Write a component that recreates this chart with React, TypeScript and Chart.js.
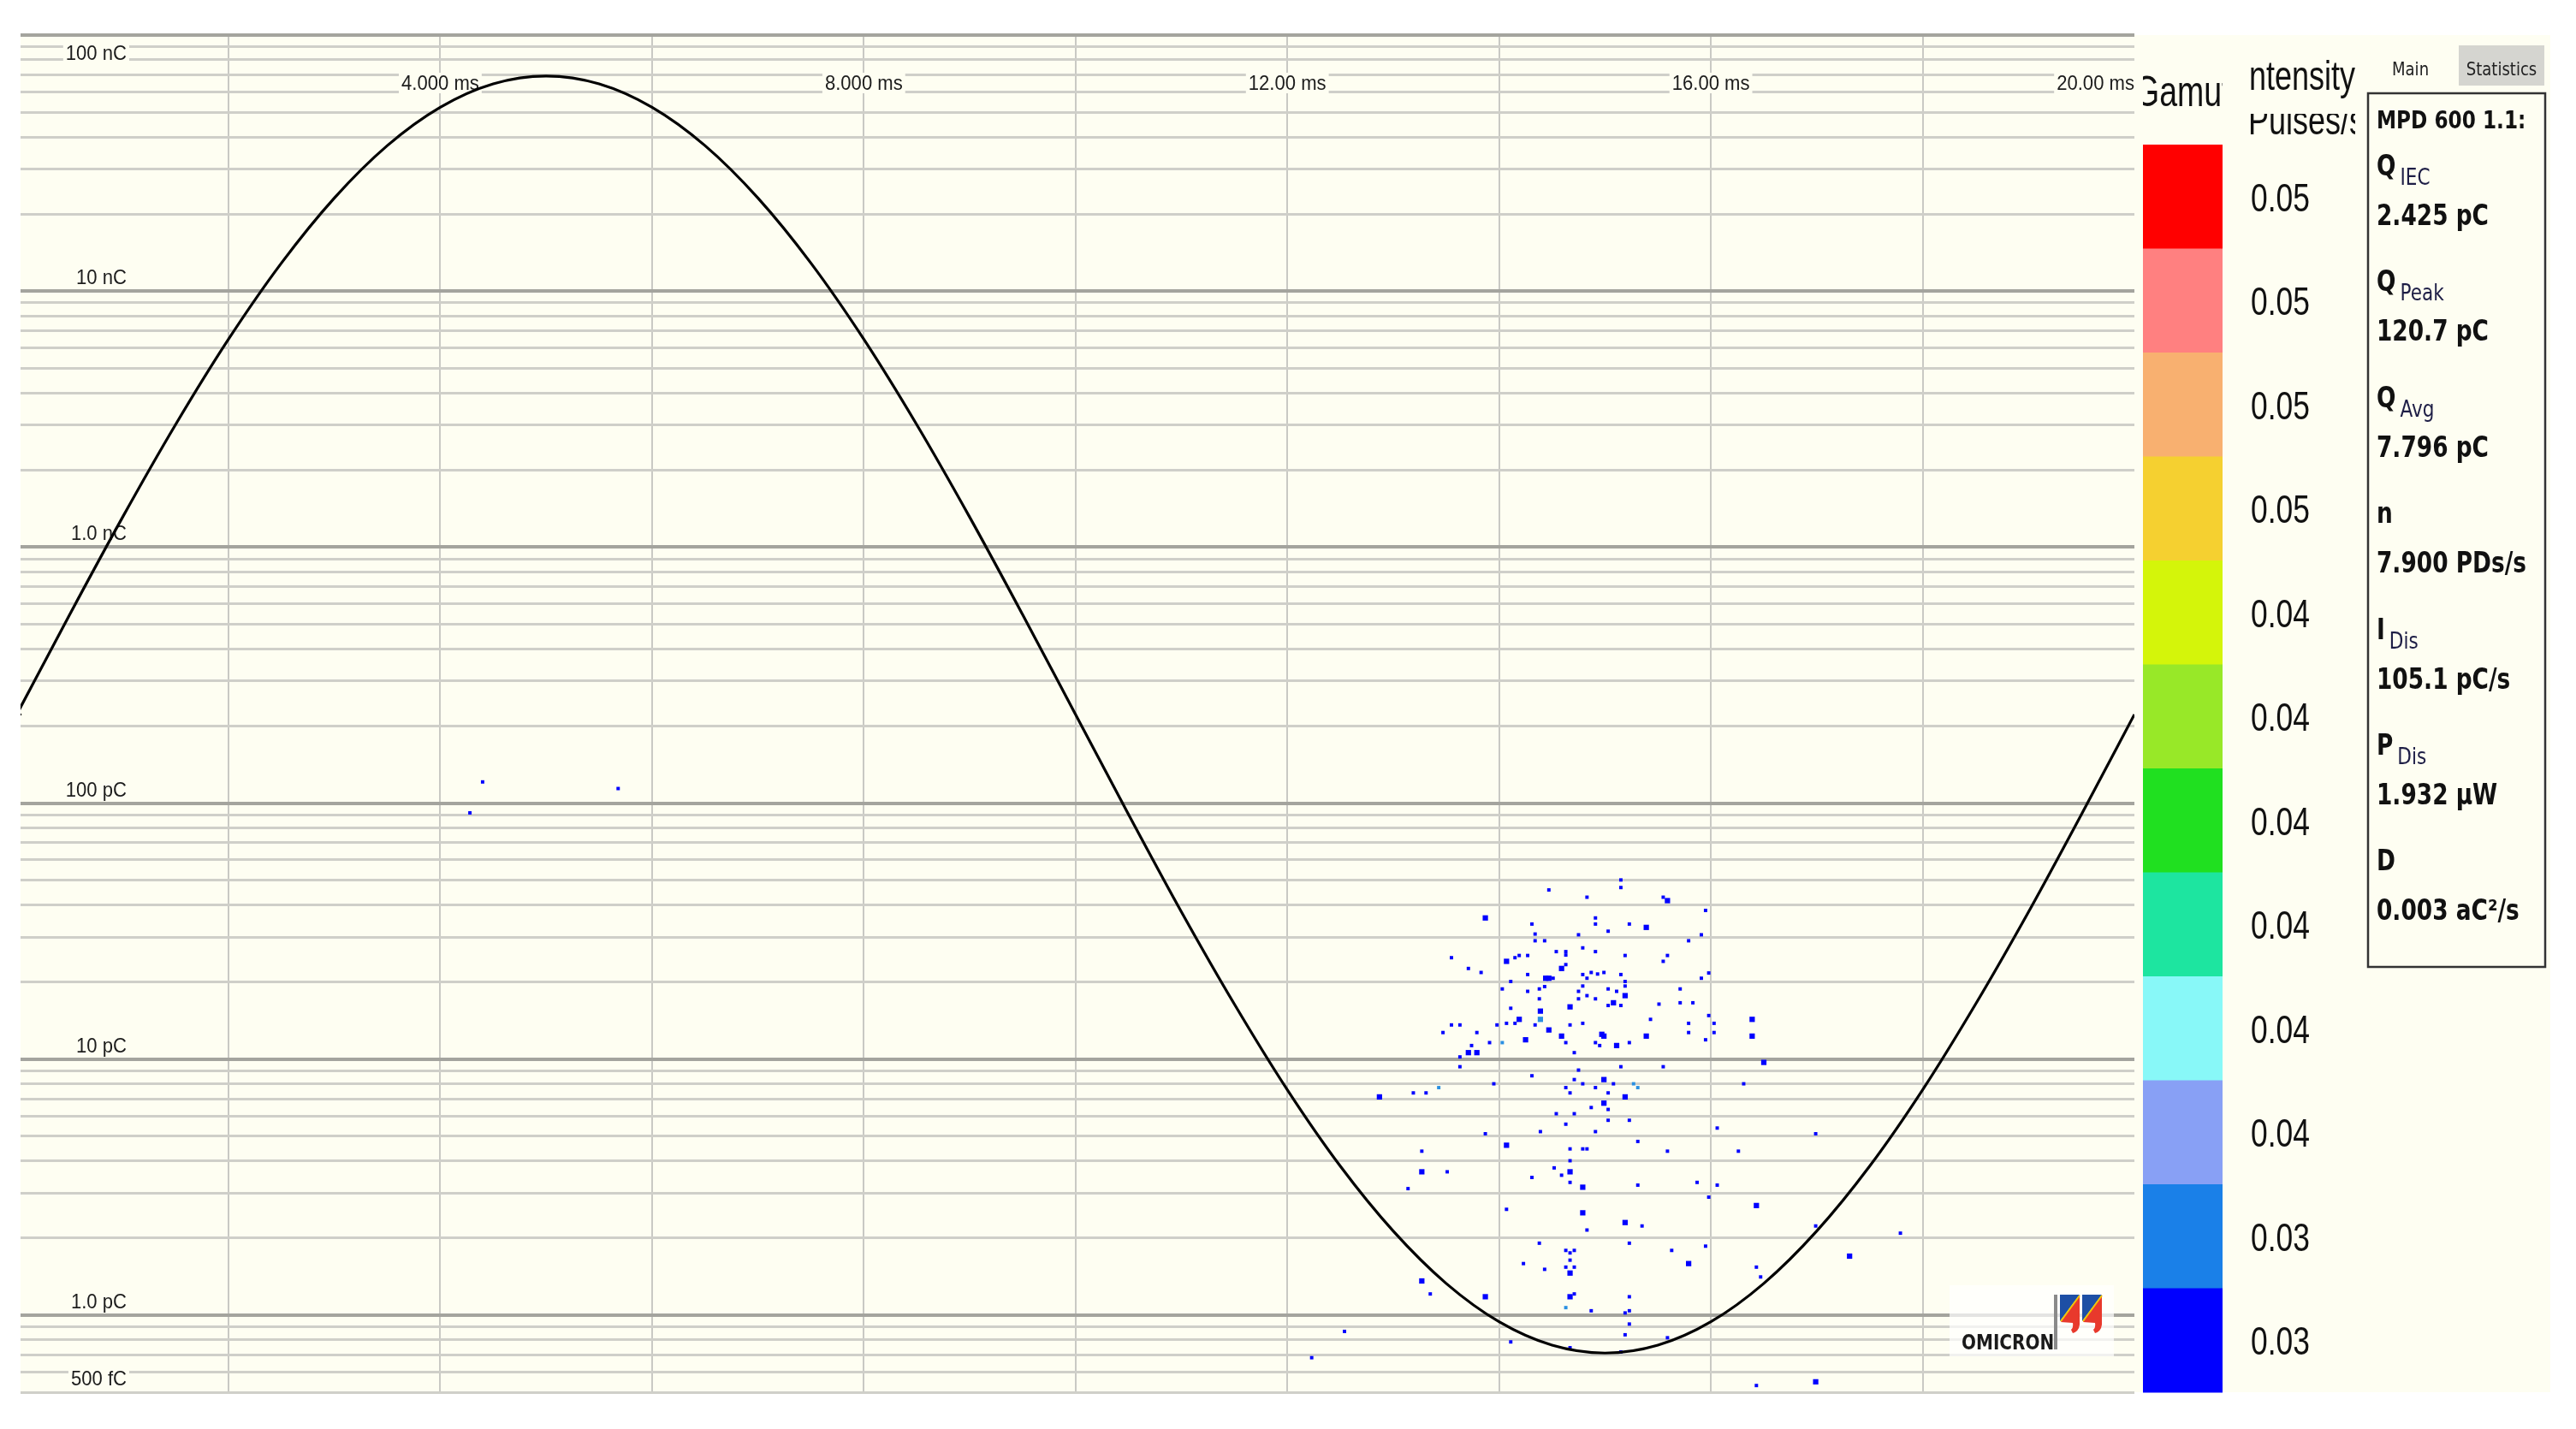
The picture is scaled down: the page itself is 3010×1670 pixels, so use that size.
import React, { useEffect, useRef } from 'react';
import { Chart, registerables } from 'chart.js';

Chart.register(...registerables);

// ---------------- DATA ----------------
// Reference sine (phase of 50 Hz test voltage): time (ms) and height on the charge axis (pC)
const sineTimeMs = [
  0, 0.5, 1, 1.5, 2, 2.5, 3, 3.5, 4, 4.5, 5, 5.5, 6, 6.5, 7, 7.5, 8, 8.5, 9, 9.5,
  10, 10.5, 11, 11.5, 12, 12.5, 13, 13.5, 14, 14.5, 15, 15.5, 16, 16.5, 17, 17.5, 18, 18.5, 19, 19.5, 20,
];
const sineChargePc = [
  222, 545, 1309, 3008, 6486, 12870, 23100, 37010, 52230, 64480, 69180, 64480, 52230, 37010, 23100, 12870, 6486, 3008, 1309, 545,
  222, 90.4, 37.6, 16.4, 7.59, 3.82, 2.13, 1.33, 0.942, 0.763, 0.711, 0.763, 0.942, 1.33, 2.13, 3.82, 7.59, 16.4, 37.6, 90.4, 222,
];

// Partial discharge pulses: phase time (ms), charge (pC), pulse count in the cell, intensity level (0 = lowest)
const pdTimeMs = [
  15.15, 15.15, 14.47, 14.83, 15.55, 15.59, 15.95, 13.87, 14.91, 14.91,
  14.31, 15.23, 15.39, 15.03, 14.34, 14.75, 15.91, 14.34, 14.43, 15.79,
  14.54, 14.63, 14.63, 14.79, 14.91, 13.55, 14.19, 14.27, 14.15, 15.19,
  15.59, 14.07, 15.55, 13.71, 13.83, 14.59, 14.63, 14.27, 14.79, 14.83,
  14.87, 14.93, 14.99, 15.15, 14.44, 14.47, 14.51, 15.98, 15.91, 14.11,
  14.03, 15.19, 15.19, 14.79, 14.38, 14.43, 14.27, 14.75, 15.03, 15.11,
  15.71, 15.19, 14.83, 14.38, 14.75, 14.91, 15.08, 15.03, 15.15, 15.51,
  15.71, 15.83, 14.11, 14.39, 14.67, 15.98, 14.39, 14.19, 15.43, 14.07,
  14.15, 14.79, 15.79, 13.55, 13.63, 13.98, 14.34, 14.67, 13.47, 13.79,
  14.47, 14.97, 14.99, 14.59, 15.39, 15.79, 14.25, 15.95, 13.91, 14.03,
  14.63, 14.91, 14.95, 15.11, 15.23, 13.74, 13.71, 13.79, 14.71, 13.63,
  13.63, 14.75, 15.15, 15.55, 14.31, 14.71, 14.99, 13.95, 14.79, 15.08,
  15.27, 15.31, 13.43, 13.19, 13.31, 14.63, 14.91, 12.87, 14.67, 15.03,
  15.19, 14.99, 14.87, 15.03, 14.54, 14.71, 15.03, 15.23, 14.63, 13.87,
  14.39, 14.91, 16.03, 16.03, 16.39, 16.39, 16.5, 16.31, 16.06, 16.99,
  14.07, 13.27, 14.67, 14.79, 14.83, 15.31, 15.59, 14.67, 13.27, 13.51,
  14.52, 14.59, 14.67, 14.31, 14.67, 14.79, 15.31, 15.87, 13.14, 15.98,
  14.07, 14.79, 15.19, 15.35, 14.83, 14.38, 15.23, 14.63, 14.67, 14.71,
  15.63, 15.95, 14.67, 14.23, 15.79, 14.63, 14.71, 14.43, 14.67, 13.27,
  13.35, 13.87, 14.67, 14.71, 15.23, 14.63, 14.87, 15.19, 15.23, 15.23,
  12.54, 15.19, 15.59, 14.11, 14.67, 12.23, 15.15, 16.26, 16.06, 16.43,
  16.99, 17.79, 17.31, 16.43, 16.47, 16.43, 16.99, 4.4, 4.28, 5.68,
];
const pdChargePc = [
  50.1, 46.8, 45.8, 42.9, 42.9, 41.6, 38.1, 35.6, 35.6, 33.7,
  33.7, 33.7, 32.7, 31.6, 30.8, 30.6, 30.6, 29.0, 29.0, 29.0,
  26.3, 26.3, 25.5, 27.2, 26.3, 24.9, 25.4, 25.4, 24.9, 25.4,
  25.4, 24.1, 24.1, 22.6, 21.8, 22.6, 23.4, 21.4, 21.4, 20.7,
  21.8, 21.5, 21.8, 21.4, 20.7, 20.7, 20.7, 21.7, 20.7, 20.1,
  18.8, 20.1, 19.3, 19.3, 18.8, 19.2, 18.4, 18.4, 18.8, 18.4,
  18.8, 17.7, 17.7, 17.2, 17.2, 17.2, 16.6, 16.2, 16.2, 16.4,
  16.6, 16.6, 15.8, 15.4, 16.0, 14.8, 14.3, 14.3, 14.3, 13.8,
  13.8, 13.8, 13.8, 13.6, 13.6, 13.6, 13.6, 13.6, 12.7, 12.7,
  13.0, 12.5, 12.3, 12.3, 12.3, 12.7, 11.9, 11.9, 11.6, 11.6,
  11.6, 11.6, 11.3, 11.3, 11.6, 11.3, 10.6, 10.6, 10.6, 10.2,
  9.34, 9.06, 9.34, 9.34, 8.61, 8.32, 8.32, 8.01, 8.01, 8.01,
  8.01, 7.74, 7.74, 7.38, 7.38, 7.74, 7.74, 7.12, 7.38, 7.38,
  7.12, 6.73, 6.47, 6.36, 6.12, 6.12, 5.77, 5.77, 5.57, 5.11,
  5.21, 5.21, 13.8, 12.7, 14.3, 12.3, 9.71, 8.01, 5.38, 5.11,
  4.61, 4.37, 4.46, 4.46, 4.46, 4.77, 4.37, 4.01, 3.63, 3.63,
  3.76, 3.52, 3.63, 3.45, 3.3, 3.16, 3.22, 3.3, 3.12, 2.89,
  2.59, 2.51, 2.3, 2.23, 2.15, 1.91, 1.91, 1.79, 1.75, 1.79,
  1.79, 1.86, 1.64, 1.59, 1.59, 1.54, 1.54, 1.51, 1.46, 1.36,
  1.21, 1.18, 1.18, 1.21, 1.18, 1.07, 1.04, 1.02, 1.04, 0.923,
  0.864, 0.838, 0.816, 0.786, 0.746, 0.682, 0.718, 4.37, 3.22, 2.68,
  2.23, 2.09, 1.7, 1.54, 1.41, 0.531, 0.549, 121, 91.6, 114,
];
const pdPulses = [
  1, 1, 1, 1, 1, 2, 1, 2, 1, 1,
  1, 1, 2, 1, 1, 1, 1, 1, 1, 1,
  1, 1, 1, 1, 1, 1, 1, 1, 1, 1,
  1, 2, 1, 1, 1, 2, 1, 1, 1, 1,
  1, 1, 1, 1, 2, 2, 1, 1, 1, 1,
  1, 1, 1, 1, 1, 1, 1, 1, 1, 1,
  1, 2, 1, 1, 1, 1, 2, 1, 1, 1,
  1, 1, 1, 2, 2, 1, 2, 2, 1, 1,
  1, 1, 1, 1, 1, 1, 1, 1, 1, 1,
  2, 2, 2, 2, 2, 1, 2, 1, 1, 1,
  1, 1, 1, 2, 1, 1, 2, 2, 1, 1,
  1, 1, 1, 1, 1, 1, 2, 1, 1, 1,
  1, 1, 1, 1, 1, 1, 1, 2, 1, 1,
  2, 2, 1, 1, 1, 1, 1, 1, 1, 1,
  1, 1, 1, 1, 2, 2, 2, 1, 1, 1,
  2, 1, 1, 1, 1, 1, 1, 1, 2, 1,
  1, 1, 2, 1, 1, 2, 1, 1, 1, 1,
  1, 2, 2, 1, 1, 1, 1, 1, 1, 1,
  1, 1, 1, 1, 2, 1, 1, 1, 2, 2,
  1, 2, 2, 1, 1, 1, 1, 1, 1, 1,
  1, 1, 1, 1, 1, 1, 1, 1, 1, 2,
  1, 1, 2, 1, 1, 1, 2, 1, 1, 1,
];
const pdLevel = [
  0, 0, 0, 0, 0, 0, 0, 0, 0, 0,
  0, 0, 0, 0, 0, 0, 0, 0, 0, 0,
  0, 0, 0, 0, 0, 0, 0, 0, 0, 0,
  0, 0, 0, 0, 0, 0, 0, 0, 0, 0,
  0, 0, 0, 0, 0, 0, 0, 0, 0, 0,
  0, 0, 0, 0, 0, 0, 0, 0, 0, 0,
  0, 0, 0, 0, 0, 0, 0, 0, 0, 0,
  0, 0, 0, 0, 0, 0, 1, 0, 0, 0,
  0, 0, 0, 0, 0, 0, 0, 0, 0, 0,
  0, 0, 0, 0, 0, 0, 0, 0, 0, 1,
  0, 0, 0, 0, 0, 0, 0, 0, 0, 0,
  0, 0, 0, 0, 0, 0, 0, 0, 0, 0,
  1, 1, 1, 0, 0, 0, 0, 0, 0, 0,
  0, 0, 0, 0, 0, 0, 0, 0, 0, 0,
  0, 0, 0, 0, 0, 0, 0, 0, 0, 0,
  0, 0, 0, 0, 0, 0, 0, 0, 0, 0,
  0, 0, 0, 0, 0, 0, 0, 0, 0, 0,
  0, 0, 0, 0, 0, 0, 0, 0, 0, 0,
  0, 0, 0, 0, 0, 0, 0, 0, 0, 0,
  0, 0, 0, 0, 0, 1, 0, 0, 0, 0,
  0, 0, 0, 0, 0, 0, 0, 0, 0, 0,
  0, 0, 0, 0, 0, 0, 0, 0, 0, 0,
];

// Axis ticks
const xRangeMs = [0.036, 20];
const xTickMs = [4, 8, 12, 16, 20];
const xTickLabels = ['4.000 ms', '8.000 ms', '12.00 ms', '16.00 ms', '20.00 ms'];
const yTickPc = [100000, 10000, 1000, 100, 10, 1, 0.5];
const yTickLabels = ['100 nC', '10 nC', '1.0 nC', '100 pC', '10 pC', '1.0 pC', '500 fC'];
const yDecadesPc = [0.1, 1, 10, 100, 1000, 10000, 100000];
const yMinorSteps = [1, 2, 3, 4, 5, 6, 7, 8, 9];

// Gamut (intensity colour scale), top to bottom
const gamutColors = [
  '#ff0000', '#ff8080', '#f8b070', '#f5d030', '#d4f50a', '#98e828',
  '#20e020', '#1de5a0', '#88f8f8', '#88a0f5', '#1a80e8', '#0000ff',
];
const gamutLabels = ['0.05', '0.05', '0.05', '0.05', '0.04', '0.04', '0.04', '0.04', '0.04', '0.04', '0.03', '0.03'];

// Statistics panel
const statTitle = 'MPD 600 1.1:';
const statNames = ['Q', 'Q', 'Q', 'n', 'I', 'P', 'D'];
const statSubs = ['IEC', 'Peak', 'Avg', '', 'Dis', 'Dis', ''];
const statValues = ['2.425 pC', '120.7 pC', '7.796 pC', '7.900 PDs/s', '105.1 pC/s', '1.932 \u00b5W', '0.003 aC\u00b2/s'];

// ---------------- LAYOUT / STYLE ----------------
const W = 3010;
const H = 1670;
const PLOT = { left: 24, top: 41, right: 2494, bottom: 1627 };
const PANEL_RIGHT = 2980;
const CREAM = '#fefef2';
const GRID_MINOR = '#cfcfc9';
const GRID_MAJOR = '#a4a49e';
const GRID_V = '#c9c9c4';
const AXIS_FONT = '24px "Liberation Sans", Arial, sans-serif';
const AXIS_SX = 0.92;

const yGridValues: number[] = [];
yDecadesPc.forEach((d) => yMinorSteps.forEach((m) => {
  const v = +(d * m).toPrecision(6);
  if (v >= 0.5 && v <= 100000 && !yGridValues.includes(v)) yGridValues.push(v);
}));

const isDecade = (v: number) => {
  if (!(v > 0)) return false;
  const l = Math.log10(v);
  return Math.abs(l - Math.round(l)) < 1e-6;
};

function drawText(ctx: CanvasRenderingContext2D, s: string, x: number, y: number, font: string, color: string, align: string, sx: number) {
  ctx.save();
  ctx.font = font;
  ctx.textAlign = 'left';
  ctx.textBaseline = 'alphabetic';
  const w = ctx.measureText(s).width * sx;
  const x0 = align === 'left' ? x : align === 'right' ? x - w : x - w / 2;
  ctx.fillStyle = color;
  ctx.translate(x0, y);
  ctx.scale(sx, 1);
  ctx.fillText(s, 0, 0);
  ctx.restore();
  return { x0, w };
}

function measure(ctx: CanvasRenderingContext2D, s: string, font: string, sx: number) {
  ctx.save();
  ctx.font = font;
  const w = ctx.measureText(s).width * sx;
  ctx.restore();
  return w;
}

function labelWithBg(ctx: CanvasRenderingContext2D, s: string, x: number, baseline: number, align: string) {
  const w = measure(ctx, s, AXIS_FONT, AXIS_SX);
  const x0 = align === 'left' ? x : align === 'right' ? x - w : x - w / 2;
  ctx.save();
  ctx.fillStyle = CREAM;
  ctx.fillRect(x0 - 3, baseline - 20, w + 6, 24);
  ctx.restore();
  drawText(ctx, s, x0, baseline, AXIS_FONT, '#1c1c1c', 'left', AXIS_SX);
}

function drawLogo(ctx: CanvasRenderingContext2D) {
  ctx.save();
  ctx.fillStyle = 'rgba(255,255,255,0.7)';
  ctx.fillRect(2278, 1502, 192, 83);
  ctx.restore();
  drawText(ctx, 'OMICRON', 2292, 1577, 'bold 25px "DejaVu Sans", sans-serif', '#1a1a1a', 'left', 0.8);
  ctx.save();
  ctx.fillStyle = '#8a8a8a';
  ctx.fillRect(2400, 1513, 4, 64);
  [2407, 2433].forEach((gx) => {
    ctx.fillStyle = '#1d4fa5';
    ctx.beginPath();
    ctx.moveTo(gx, 1513);
    ctx.lineTo(gx + 23, 1513);
    ctx.lineTo(gx, 1544);
    ctx.closePath();
    ctx.fill();
    ctx.fillStyle = '#e8392c';
    ctx.beginPath();
    ctx.moveTo(gx + 23, 1514);
    ctx.lineTo(gx + 23, 1548);
    ctx.quadraticCurveTo(gx + 22, 1556, gx + 15, 1558);
    ctx.lineTo(gx + 13, 1554);
    ctx.quadraticCurveTo(gx + 16, 1551, gx + 15, 1546);
    ctx.lineTo(gx + 1, 1545);
    ctx.closePath();
    ctx.fill();
    ctx.strokeStyle = '#f2c400';
    ctx.lineWidth = 2;
    ctx.beginPath();
    ctx.moveTo(gx + 23, 1514);
    ctx.lineTo(gx + 1, 1544);
    ctx.stroke();
  });
  ctx.restore();
}

const decorPlugin = {
  id: 'decor',
  beforeDraw(chart: any) {
    const ctx = chart.ctx as CanvasRenderingContext2D;
    const a = chart.chartArea;
    ctx.save();
    ctx.fillStyle = CREAM;
    ctx.fillRect(a.left, a.top, PANEL_RIGHT - a.left, a.bottom - a.top);
    ctx.restore();
  },
  beforeDatasetsDraw(chart: any) {
    const ctx = chart.ctx as CanvasRenderingContext2D;
    const a = chart.chartArea;
    const xs = chart.scales.x;
    const ys = chart.scales.y;
    yTickPc.forEach((v, i) => {
      const py = ys.getPixelForValue(v);
      let base = py - 8;
      if (base - 18 < a.top) base = a.top + 29;
      labelWithBg(ctx, yTickLabels[i], 148, base, 'right');
    });
    xTickMs.forEach((t, i) => {
      const px = xs.getPixelForValue(t);
      const w = measure(ctx, xTickLabels[i], AXIS_FONT, AXIS_SX);
      let cx = px;
      if (cx + w / 2 > a.right) cx = a.right - w / 2;
      labelWithBg(ctx, xTickLabels[i], cx, 105, 'center');
    });
    drawLogo(ctx);
  },
  afterDraw(chart: any) {
    const ctx = chart.ctx as CanvasRenderingContext2D;
    const a = chart.chartArea;
    const barL = 2504;
    const barR = 2597;
    const barT = 169;
    const barB = a.bottom;
    const cellH = (barB - barT) / gamutColors.length;
    gamutColors.forEach((c, i) => {
      ctx.fillStyle = c;
      ctx.fillRect(barL, barT + i * cellH, barR - barL, cellH + 0.5);
      drawText(ctx, gamutLabels[i], 2630, barT + (i + 0.5) * cellH + 17, '46px "Liberation Sans", Arial, sans-serif', '#111', 'left', 0.77);
    });
    ctx.save();
    ctx.beginPath();
    ctx.rect(barL, 55, barR - barL, 80);
    ctx.clip();
    drawText(ctx, 'Gamut', 2494, 124, '50px "Liberation Sans", Arial, sans-serif', '#111', 'left', 0.75);
    ctx.restore();
    ctx.save();
    ctx.beginPath();
    ctx.rect(2629, 50, 2752 - 2629, 127 - 50);
    ctx.clip();
    drawText(ctx, 'Intensity', 2618, 105, '48px "Liberation Sans", Arial, sans-serif', '#111', 'left', 0.75);
    ctx.restore();
    ctx.save();
    ctx.beginPath();
    ctx.rect(2620, 133, 2752 - 2620, 36);
    ctx.clip();
    drawText(ctx, 'Pulses/s', 2627, 157, '48px "Liberation Sans", Arial, sans-serif', '#111', 'left', 0.75);
    ctx.restore();

    const tabFont = '22px "DejaVu Sans", Tahoma, sans-serif';
    drawText(ctx, 'Main', 2795, 88, tabFont, '#222', 'left', 0.82);
    ctx.fillStyle = '#d5d5d0';
    ctx.fillRect(2873, 53, 100, 47);
    drawText(ctx, 'Statistics', 2923, 88, tabFont, '#222', 'center', 0.82);

    ctx.save();
    ctx.strokeStyle = '#333';
    ctx.lineWidth = 2.5;
    ctx.strokeRect(2767, 109, 2974 - 2767, 1130 - 109);
    ctx.restore();
    const boldFont = 'bold 33px "DejaVu Sans", Verdana, sans-serif';
    const subFont = '27px "DejaVu Sans", Verdana, sans-serif';
    const sx = 0.8;
    drawText(ctx, statTitle, 2777, 150, 'bold 29px "DejaVu Sans", Verdana, sans-serif', '#111', 'left', sx);
    statNames.forEach((nm, i) => {
      const base = 205 + i * 135.4;
      const r = drawText(ctx, nm, 2777, base, boldFont, '#111', 'left', sx);
      if (statSubs[i]) drawText(ctx, statSubs[i], 2777 + r.w + 5, base + 11, subFont, '#1e1e46', 'left', sx);
      drawText(ctx, statValues[i], 2777, base + 58, boldFont, '#111', 'left', sx);
    });
  },
};

export default function App() {
  const ref = useRef<HTMLCanvasElement | null>(null);
  useEffect(() => {
    document.body.style.margin = '0';
    document.body.style.overflow = 'hidden';
    const canvas = ref.current;
    if (!canvas) return;

    const sineData = sineTimeMs.map((t, i) => ({ x: t, y: sineChargePc[i] }));
    const pdPoints = pdTimeMs.map((t, i) => ({ x: t, y: pdChargePc[i], n: pdPulses[i], lvl: pdLevel[i] }));
    const radiusFor = (c: any) => (c.raw && c.raw.n === 2 ? 4.4 : 2.8);

    const chart = new Chart(canvas, {
      type: 'scatter',
      data: {
        datasets: [
          {
            label: 'Phase reference',
            data: sineData,
            showLine: true,
            borderColor: '#000000',
            borderWidth: 3.2,
            pointRadius: (c: any) => (c.dataIndex === 0 ? 6 : 0),
            pointStyle: 'rectRot',
            pointBackgroundColor: '#000000',
            pointBorderWidth: 0,
            cubicInterpolationMode: 'monotone',
            fill: false,
          } as any,
          {
            label: 'PD level 2',
            data: pdPoints.filter((p) => p.lvl === 1),
            pointStyle: 'rect',
            backgroundColor: '#2a90e2',
            borderWidth: 0,
            pointBorderWidth: 0,
            pointRadius: radiusFor,
            pointHoverRadius: radiusFor,
          } as any,
          {
            label: 'PD level 1',
            data: pdPoints.filter((p) => p.lvl === 0),
            pointStyle: 'rect',
            backgroundColor: '#0000ff',
            borderWidth: 0,
            pointBorderWidth: 0,
            pointRadius: radiusFor,
            pointHoverRadius: radiusFor,
          } as any,
        ],
      },
      options: {
        responsive: false,
        maintainAspectRatio: false,
        animation: false,
        devicePixelRatio: 1,
        events: [],
        layout: {
          padding: {
            left: PLOT.left,
            top: PLOT.top,
            right: W - PLOT.right,
            bottom: H - PLOT.bottom,
          },
        },
        plugins: {
          legend: { display: false },
          tooltip: { enabled: false },
          title: { display: false },
        },
        scales: {
          x: {
            type: 'linear',
            min: xRangeMs[0],
            max: xRangeMs[1],
            afterBuildTicks: (s: any) => {
              s.ticks = [2, 4, 6, 8, 10, 12, 14, 16, 18].map((v) => ({ value: v }));
            },
            ticks: { display: false },
            border: { display: false },
            grid: {
              drawTicks: false,
              color: GRID_V,
              lineWidth: 2,
            },
          },
          y: {
            type: 'logarithmic',
            min: 0.5,
            max: 100000,
            afterBuildTicks: (s: any) => {
              s.ticks = yGridValues.map((v) => ({ value: v }));
            },
            ticks: { display: false },
            border: { display: false },
            grid: {
              drawTicks: false,
              color: (c: any) => (c.tick && isDecade(c.tick.value) ? GRID_MAJOR : GRID_MINOR),
              lineWidth: (c: any) => (c.tick && isDecade(c.tick.value) ? 4 : 3),
            },
          },
        },
      } as any,
      plugins: [decorPlugin],
    });
    return () => chart.destroy();
  }, []);

  return (
    <div style={{ position: 'absolute', left: 0, top: 0, width: W, height: H, background: '#ffffff' }}>
      <canvas ref={ref} width={W} height={H} style={{ display: 'block', width: W, height: H }} />
    </div>
  );
}
